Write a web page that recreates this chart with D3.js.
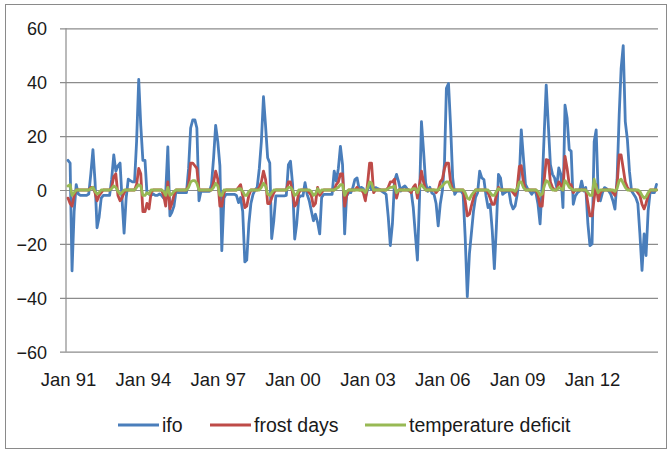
<!DOCTYPE html>
<html>
<head>
<meta charset="utf-8">
<script src="https://cdn.jsdelivr.net/npm/d3@7"></script>
<style>
  body { margin: 0; background: #fff; }
  svg { display: block; font-family: "Liberation Sans", Arial, sans-serif; }
</style>
</head>
<body>
<svg id="chart" width="671" height="452"></svg>
<script>
// monthly values, Jan 1991 .. Aug 2014 (one row per year)
const ifo = [
  11, 10, -30, -8, 2, -1.5, -2, -2, -2, -2, -1.5, 6,
  15, 3, -14, -10, -3, -2, -2, -2, -2, 4, 13, 7,
  9, 10, -3, -16, -3, 4, 3.5, 3, 3, 18, 41, 24,
  11, 11, -1, -1.5, -2, -1.5, -2, -2, -1.5, -2, -3, -1,
  16, -9.6, -8.3, -6, -0.4, -1, -1, -1, -1, -1, 8, 23,
  26, 26, 23, -4, -0.4, -0.5, -0.5, -0.5, -0.5, 2, 12, 24,
  18, 9, -22.5, -3, -1.6, -1.6, -1.6, -1.6, -1.6, -2, -4.7, -2.8,
  -8, -26.7, -26, -12.6, -5, -1.6, 0, 1, 8, 18, 34.6, 24,
  12, 10, -18, -11.4, -2.2, -2.2, -2.2, -2.2, -2.2, -2, 9.4, 10.7,
  2.1, -18.2, -12.6, -2.8, -2.2, -2.2, 2.7, -1.6, -4, -7.7, -11.4, -9,
  -12, -16.3, -2.8, -1.6, -1.6, -1.6, -1.6, -1.6, 7, 3.3, 8, 16.2,
  9.4, -16.3, -2.2, -1, -1, 0.9, 3.9, 4.5, 0.5, 1, 0.5, -2.8,
  0, 2, 0.2, 0.5, 0.9, 0.5, 0.2, -0.5, -1, -1.6, -10, -20.6,
  -12.6, 3.3, 5.8, 3, -0.4, 1, 1.5, 0.5, -0.4, -0.5, -6.5, -16.3,
  -26, -2.8, 25.4, 14.4, 2.7, -0.5, 1, -1.1, -1.6, -5, -13.3, -5.3,
  -0.4, 10, 37.7, 39.5, 24, 4.5, -1.6, -0.4, -0.4, -0.4, -1.6, -17.5,
  -39.6, -23.7, -16.3, -8, -2.8, -1, 7, 4.5, 3.9, -2, -6.5, -5.3,
  -15, -29.2, -14, 5.8, 4.5, -1.6, -1, -0.5, -0.4, -5, -7, -5.9,
  -1.6, 5, 22.3, 12, 2.1, 0.5, -0.4, -1.6, -0.4, -1, -5.3, -12.6,
  2, 21.7, 38.9, 24, 9.4, 5.8, 4.5, 1, 8.2, 5.8, -6.5, 31.5,
  26.6, 15, 14.4, -5.3, -2.2, -1, -0.4, 3.3, -0.4, 0.9, -12.6, -20.6,
  -20, 18, 22.3, -2.8, -4, -1, 0.9, 0.5, -0.4, -1.6, -4, -7.1,
  4, 27.9, 45, 53.6, 25.4, 18.7, 7, -0.4, -1.6, -2.8, -5, -16.3,
  -29.8, -16.3, -24.3, -7.7, -0.4, -1, -1, 2.1
];

const frostDays = [
  -3, -5, -6, -2, 0, 0, 0, 0, 0, 0, 0, 1,
  1, -1, -4, -2, -1, 0, 0, 0, 0, 1, 5, 6,
  -2, -4, -3, -1, 0, 0, 0, 0, 0, 2, 8, 6,
  -8, -8, -5, -7, -1, 0, 0, 0, 0, 0, -2, -6,
  3, -7, -5, -2, 0, 0, 0, 0, 0, 0, 2, 10,
  10, 9, 8, 0, 0, 0, 0, 0, 0, 0, 3, 7,
  4, -6, -6, -1, 0, 0, 0, 0, 0, 0, 1, 2,
  -2, -6.5, -6, -2, 0, 0, 0, 0, 1, 3, 7, 4,
  -5, -5, -3, -1, 0, 0, 0, 0, 0, 0, 3, 3,
  -1, -6, -5, -1, 0, 0, 0, 0, -1, -2, -6, -5,
  1, -2, -1, 0, 0, 0, 0, 0, 0, 2, 3, 6,
  6, -6, -2, 0, 0, 0, 0, 1, 0, 0, -1, -4,
  2, 10, 10, -1, 0, 0, 0, 0, 0, 0, 1, 3,
  3, 4, -3, 0, 0, 0, 0, 0, 0, -1, 1, 2,
  -3, 2, 7, 3, 0, 0, 0, 0, 0, -1, 0, 3,
  4, 8, 10, 10, 3, 0, 0, 0, 0, 0, 0, -4,
  -9.6, -9, -6, -3, 0, 0, 0, 0, 0, 0, -1, -3,
  -5.3, -5.3, -2, 1, 0, 0, 0, 0, 0, 0, -1, -2,
  1, 8.8, 9, 3, 0, 0, 0, 0, 0, 0, -2, -6,
  -6, 4, 11.3, 11, 3, 1, 0, 0, 3, 2, 0, 12.5,
  8, 2, 2, -1, 0, 0, 0, 0, 0, 0, -5, -9.6,
  -9.6, -3, 2, -4, -1, 0, 0, 0, 0, 0, -1, -2,
  2, 13, 13, 8, 3, 1, 0, 0, 0, 0, -1, -2,
  -5.3, -7, -5, -2, 0, 0, 0, 0
];

const tempDeficit = [
  1.5, 2, -2, -1, 0, 0, 0, 0, 0, 0, 0, 0.5,
  1, -0.5, -1.5, -1, 0, 0, 0, 0, 0, 0.5, 1.5, 1,
  -0.5, -1.5, -1, 0, 0, 0, 0, 0, 0, 1, 2, 1.5,
  -2, -2, -1, -1.5, 0, 0, 0, 0, 0, 0, -0.5, -2,
  1, -2, -1.5, -0.5, 0, 0, 0, 0, 0, 0, 1, 3,
  3.5, 3.5, 2.5, 0, 0, 0, 0, 0, 0, 0, 1, 2.5,
  1.5, -2, -2, 0, 0, 0, 0, 0, 0, 0, 0.5, 0.5,
  -0.5, -2, -2, -0.5, 0, 0, 0, 0, 0, 1, 2.5, 1.5,
  -1.5, -2, -1, 0, 0, 0, 0, 0, 0, 0, 1, 1,
  0, -2, -1.5, 0, 0, 0, 0, 0, 0, -0.5, -2, -1.5,
  0.5, -1, 0, 0, 0, 0, 0, 0, 0, 0.5, 1, 2,
  2, -2, -0.5, 0, 0, 0, 0, 0, 0, 0, 0, -1,
  0.5, 3, 2.5, 0, 0, 0, 0, 0, 0, 0, 0.5, 1,
  1, 1.5, -1, 0, 0, 0, 0, 0, 0, 0, 0.5, 0.5,
  -1, 1, 2, 1, 0, 0, 0, 0, 0, 0, 0, 1,
  1.5, 2.5, 3, 3, 1, 0, 0, 0, 0, 0, 0, -1,
  -3, -3.5, -2, -1, 0, 0, 0, 0, 0, 0, 0, -1,
  -2, -2, -0.5, 0.5, 0, 0, 0, 0, 0, 0, 0, -0.5,
  0.5, 3, 3, 1, 0, 0, 0, 0, 0, 0, -0.5, -2,
  -1.5, 1.5, 3.5, 3, 1, 0, 0, 0, 1, 0.5, 0, 3.5,
  2.5, 1, 0.5, 0, 0, 0, 0, 0, 0, 0, -1, -2,
  -2, 4, 1, -1, 0, 0, 0, 0, 0, 0, 0, -0.5,
  0.5, 3.5, 4, 2.5, 1, 0, 0, 0, 0, 0, 0, -0.5,
  -2, -3, -2.5, -1, 0, 0, 0, 0
];

const xTickLabels = ["Jan 91", "Jan 94", "Jan 97", "Jan 00", "Jan 03", "Jan 06", "Jan 09", "Jan 12"];
const yTicks = [-60, -40, -20, 0, 20, 40, 60];
const seriesNames = ["ifo", "frost days", "temperature deficit"];
const seriesColors = ["#4a7ebb", "#be4b48", "#98b954"];

const start = new Date(Date.UTC(1991, 0, 1));
const months = d3.range(ifo.length).map(i => d3.utcMonth.offset(start, i));

const svg = d3.select("#chart");

// outer chart border
svg.append("rect")
  .attr("x", 5.5).attr("y", 4.5)
  .attr("width", 661).attr("height", 444)
  .attr("fill", "none")
  .attr("stroke", "#8a8a8a");

const plotLeft = 66, plotRight = 658, plotTop = 28.3, plotBottom = 351.7;

const x = d3.scaleUtc()
  .domain([start, months[months.length - 1]])
  .range([68, 656.5]);

const y = d3.scaleLinear()
  .domain([-60, 60])
  .range([plotBottom, plotTop]);

// horizontal gridlines + ticks
const yAxis = d3.axisLeft(y)
  .tickValues(yTicks)
  .tickSize(-(plotRight - plotLeft))
  .tickPadding(19)
  .tickFormat(d3.format("d"));

const gy = svg.append("g")
  .attr("transform", `translate(${plotLeft},0)`)
  .call(yAxis);
gy.select(".domain").remove();
gy.selectAll(".tick line")
  .attr("x1", -6)
  .attr("stroke", "#8c8c8c")
  .attr("stroke-width", 1.2);
gy.selectAll(".tick text")
  .attr("font-size", 18)
  .attr("fill", "#1a1a1a")
  .attr("dy", "0.36em");

// vertical axis line
svg.append("line")
  .attr("x1", plotLeft).attr("x2", plotLeft)
  .attr("y1", plotTop).attr("y2", plotBottom)
  .attr("stroke", "#8c8c8c")
  .attr("stroke-width", 1.2);

// x labels
const xTickDates = xTickLabels.map((d, i) => new Date(Date.UTC(1991 + 3 * i, 0, 1)));
const xAxis = d3.axisBottom(x)
  .tickValues(xTickDates)
  .tickSize(0)
  .tickPadding(0)
  .tickFormat((d, i) => xTickLabels[i]);

const gx = svg.append("g")
  .attr("transform", `translate(0,${plotBottom})`)
  .call(xAxis);
gx.select(".domain").remove();
gx.selectAll(".tick text")
  .attr("font-size", 18.5)
  .attr("fill", "#1a1a1a")
  .attr("dy", "34");

// series lines
const line = d3.line()
  .x((d, i) => x(months[i]))
  .y(d => y(d));

[ifo, frostDays, tempDeficit].forEach((vals, k) => {
  svg.append("path")
    .datum(vals)
    .attr("d", line)
    .attr("fill", "none")
    .attr("stroke", seriesColors[k])
    .attr("stroke-width", 2.8)
    .attr("stroke-linejoin", "round")
    .attr("stroke-linecap", "round");
});

// legend
const legendX = [118, 210, 365];
const legendY = 425;
const lg = svg.append("g");
seriesNames.forEach((name, k) => {
  lg.append("line")
    .attr("x1", legendX[k]).attr("x2", legendX[k] + 41)
    .attr("y1", legendY).attr("y2", legendY)
    .attr("stroke", seriesColors[k])
    .attr("stroke-width", 2.8);
  lg.append("text")
    .attr("x", legendX[k] + 44)
    .attr("y", legendY + 7)
    .attr("font-size", 19.5)
    .attr("fill", "#1a1a1a")
    .text(name);
});
</script>
</body>
</html>
